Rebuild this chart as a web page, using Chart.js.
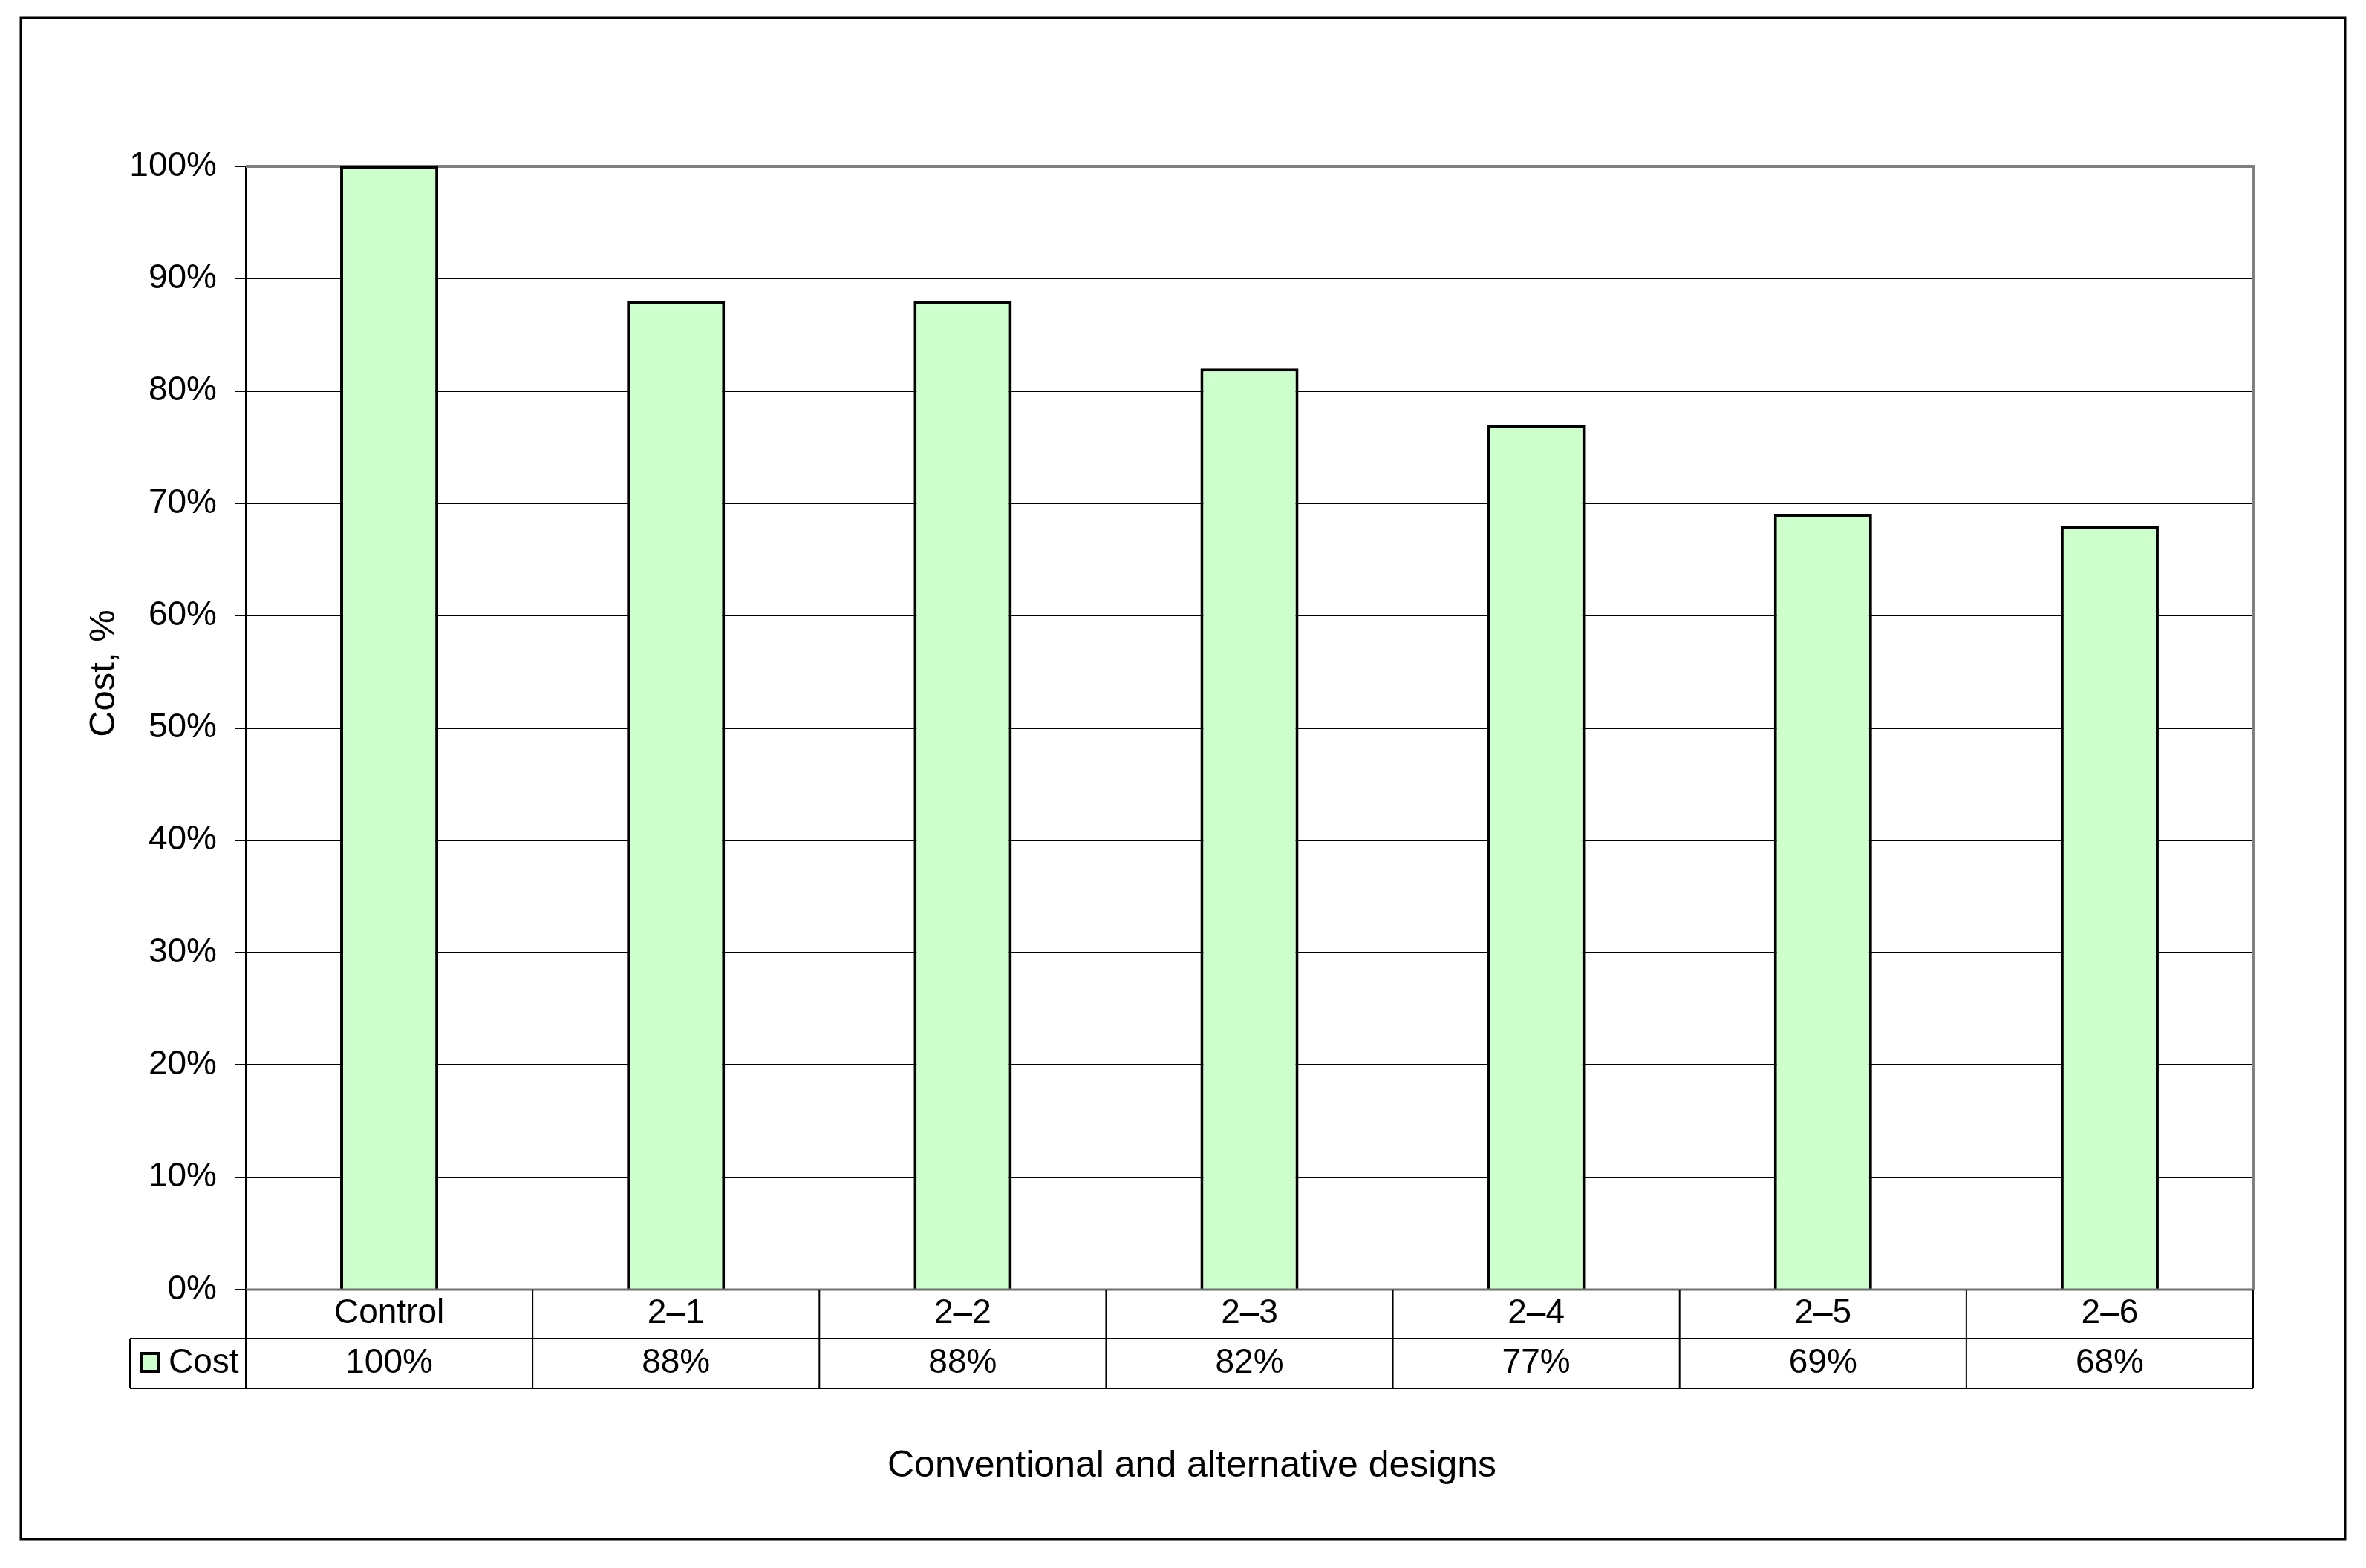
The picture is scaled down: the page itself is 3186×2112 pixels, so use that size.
<!DOCTYPE html>
<html lang="en">

<head>
    <meta charset="UTF-8">
    <title>Cost of conventional and alternative designs</title>
    <style>
        body {
            margin: 0;
            background-color: #ffffff;
        }

        #chartCost {
            display: block;
        }
    </style>
    <script src="https://cdn.jsdelivr.net/npm/chart.js"></script>
</head>

<body>
    <canvas id="chartCost" width="3186" height="2112"></canvas>

    <script>
        // Dados do gráfico
        const categories = ['Control', '2\u20131', '2\u20132', '2\u20133', '2\u20134', '2\u20135', '2\u20136'];
        const costValues = [1.00, 0.88, 0.88, 0.82, 0.77, 0.69, 0.68];
        const costLabels = ['100%', '88%', '88%', '82%', '77%', '69%', '68%'];
        const yTickLabels = ['0%', '10%', '20%', '30%', '40%', '50%', '60%', '70%', '80%', '90%', '100%'];
        const seriesName = 'Cost';
        const xTitle = 'Conventional and alternative designs';
        const yTitle = 'Cost, %';

        const FONT = '"Liberation Sans", Arial, sans-serif';

        // Desenha a moldura, a tabela de dados e os títulos
        const framePlugin = {
            id: 'frame',
            beforeDatasetsDraw(chart) {
                const ctx = chart.ctx;
                const a = chart.chartArea;
                ctx.save();
                ctx.strokeStyle = '#808080';
                ctx.lineWidth = 4;
                ctx.beginPath();
                ctx.moveTo(a.left, a.top);
                ctx.lineTo(a.right, a.top);
                ctx.lineTo(a.right, a.bottom);
                ctx.stroke();
                ctx.restore();
            },
            afterDraw(chart) {
                const ctx = chart.ctx;
                const a = chart.chartArea;
                const xScale = chart.scales.x;
                const catW = (a.right - a.left) / categories.length;
                const row1 = a.bottom + 66;
                const row2 = a.bottom + 133;
                const legendLeft = 175;

                ctx.save();

                // borda externa
                ctx.strokeStyle = '#000';
                ctx.lineWidth = 3;
                ctx.strokeRect(28, 24, 3130, 2049);

                // eixo x
                ctx.strokeStyle = '#707070';
                ctx.lineWidth = 3;
                ctx.beginPath();
                ctx.moveTo(a.left, a.bottom);
                ctx.lineTo(a.right, a.bottom);
                ctx.stroke();

                // linhas da tabela
                ctx.strokeStyle = '#000';
                ctx.lineWidth = 2;
                ctx.beginPath();
                ctx.moveTo(legendLeft, row1);
                ctx.lineTo(a.right, row1);
                ctx.moveTo(legendLeft, row2);
                ctx.lineTo(a.right, row2);
                ctx.moveTo(legendLeft, row1);
                ctx.lineTo(legendLeft, row2);
                for (let i = 0; i <= categories.length; i++) {
                    const x = a.left + i * catW;
                    ctx.moveTo(x, a.bottom);
                    ctx.lineTo(x, row2);
                }
                ctx.stroke();

                // valores da tabela
                ctx.fillStyle = '#000';
                ctx.font = '46px ' + FONT;
                ctx.textAlign = 'center';
                ctx.textBaseline = 'middle';
                const midY = (row1 + row2) / 2;
                costLabels.forEach((label, i) => {
                    ctx.fillText(label, xScale.getPixelForValue(i), midY);
                });

                // legenda
                ctx.fillStyle = '#CCFFCC';
                ctx.fillRect(190, 1823, 24, 24);
                ctx.strokeStyle = '#000';
                ctx.lineWidth = 4;
                ctx.strokeRect(190, 1823, 24, 24);
                ctx.fillStyle = '#000';
                ctx.textAlign = 'left';
                ctx.fillText(seriesName, 227, midY);

                // título do eixo x
                ctx.font = '50px ' + FONT;
                ctx.textAlign = 'center';
                ctx.fillText(xTitle, 1605, 1975);

                // título do eixo y
                ctx.translate(140, 907);
                ctx.rotate(-Math.PI / 2);
                ctx.font = '49px ' + FONT;
                ctx.fillText(yTitle, 0, 0);

                ctx.restore();
            }
        };

        const ctxCost = document.getElementById('chartCost').getContext('2d');
        new Chart(ctxCost, {
            type: 'bar',
            data: {
                labels: categories,
                datasets: [{
                    label: seriesName,
                    data: costValues,
                    backgroundColor: '#CCFFCC',
                    borderColor: '#000000',
                    borderWidth: 4,
                    barPercentage: 0.342,
                    categoryPercentage: 1
                }]
            },
            options: {
                responsive: false,
                animation: false,
                devicePixelRatio: 1,
                layout: {
                    padding: { top: 224, right: 152, left: 0, bottom: 0 }
                },
                plugins: {
                    legend: { display: false },
                    tooltip: { enabled: false }
                },
                scales: {
                    x: {
                        grid: { display: false, drawTicks: false },
                        border: { display: false },
                        ticks: {
                            color: '#000',
                            font: { size: 46, family: FONT },
                            padding: 5,
                            maxRotation: 0,
                            autoSkip: false
                        },
                        afterFit: scale => { scale.height = 375; }
                    },
                    y: {
                        min: 0,
                        max: 1,
                        grid: {
                            color: '#000',
                            lineWidth: 2,
                            tickLength: 15,
                            drawTicks: true
                        },
                        border: { display: true, color: '#000', width: 3 },
                        ticks: {
                            stepSize: 0.1,
                            color: '#000',
                            font: { size: 46, family: FONT },
                            padding: 24,
                            callback: (value, index) => yTickLabels[index]
                        },
                        afterFit: scale => { scale.width = 331; }
                    }
                }
            },
            plugins: [framePlugin]
        });
    </script>
</body>

</html>
